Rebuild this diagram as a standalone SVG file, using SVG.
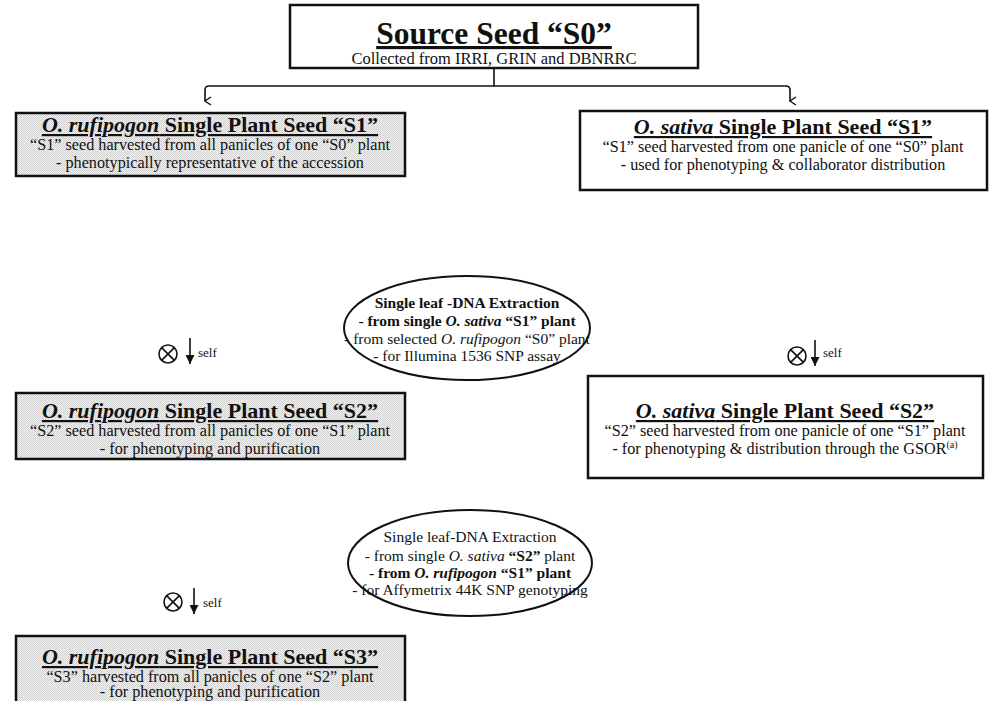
<svg xmlns="http://www.w3.org/2000/svg" width="989" height="701" viewBox="0 0 989 701">
<style>
text{font-family:"Liberation Serif","Times New Roman",serif;fill:#111;}
.box{stroke:#111;stroke-width:2.5;}
.gray{fill:url(#dots);}
.white{fill:#fff;}
.ttl{font-size:22px;font-weight:bold;text-anchor:middle;text-decoration:underline;text-decoration-thickness:2px;}
.body{font-size:16.2px;text-anchor:middle;}
.ell{fill:#fff;stroke:#111;stroke-width:2;}
.et{font-size:15.5px;text-anchor:middle;}
.self{font-size:13px;}
.line{stroke:#111;stroke-width:1.6;fill:none;}
.cross{stroke:#111;stroke-width:1.6;fill:none;}
</style>
<defs>
<pattern id="dots" width="2" height="2" patternUnits="userSpaceOnUse">
<rect width="2" height="2" fill="#efefef"/>
<rect width="1" height="1" fill="#d4d4d4"/>
<rect x="1" y="1" width="1" height="1" fill="#d4d4d4"/>
</pattern>
<marker id="open" viewBox="0 0 10 10" refX="5" refY="9" markerWidth="10" markerHeight="10" markerUnits="userSpaceOnUse" orient="auto-start-reverse">
<path d="M1,3 L5,9 L9,3" fill="none" stroke="#111" stroke-width="1.4"/>
</marker>
<marker id="fill" viewBox="0 0 10 10" refX="5" refY="10" markerWidth="9" markerHeight="11" markerUnits="userSpaceOnUse" orient="0">
<path d="M0,0 L10,0 L5,10 Z" fill="#111"/>
</marker>
</defs>
<rect width="989" height="701" fill="#fff"/>

<g id="connectors">
<path class="line" d="M494,68 L494,86"/>
<path class="line" d="M205,101 L205,90 Q205,86 209,86 L786,86 Q790,86 790,90 L790,101" marker-start="url(#open)" marker-end="url(#open)"/>
<path class="line" d="M190,338 L190,364" marker-end="url(#fill)"/>
<path class="line" d="M815,340 L815,366" marker-end="url(#fill)"/>
<path class="line" d="M194,588 L194,614" marker-end="url(#fill)"/>
</g>

<g id="self1">
<circle class="cross" cx="168" cy="354" r="9"/>
<path class="cross" d="M161.6,347.6 L174.4,360.4 M174.4,347.6 L161.6,360.4"/>
<text class="self" x="198" y="357">self</text>
</g>
<g id="self2">
<circle class="cross" cx="797" cy="356" r="9"/>
<path class="cross" d="M790.6,349.6 L803.4,362.4 M803.4,349.6 L790.6,362.4"/>
<text class="self" x="823" y="357">self</text>
</g>
<g id="self3">
<circle class="cross" cx="173" cy="602" r="9"/>
<path class="cross" d="M166.6,595.6 L179.4,608.4 M179.4,595.6 L166.6,608.4"/>
<text class="self" x="203" y="607">self</text>
</g>

<g id="source">
<rect class="box white" x="290" y="5" width="408" height="63"/>
<text x="494" y="44" style="font-size:31.5px;font-weight:bold;text-anchor:middle;text-decoration:underline;text-decoration-thickness:2.5px;">Source Seed “S0”</text>
<text x="494" y="64" style="font-size:16.5px;text-anchor:middle;">Collected from IRRI, GRIN and DBNRRC</text>
</g>

<g id="rufi-s1">
<rect class="box gray" x="16" y="113" width="389" height="63"/>
<text class="ttl" x="210" y="132"><tspan font-style="italic">O. rufipogon</tspan> Single Plant Seed “S1”</text>
<text class="body" x="210" y="150">“S1” seed harvested from all panicles of one “S0” plant</text>
<text class="body" x="210" y="168">- phenotypically representative of the accession</text>
</g>

<g id="sativa-s1">
<rect class="box white" x="580" y="111" width="407" height="79"/>
<text class="ttl" x="783" y="134"><tspan font-style="italic">O. sativa</tspan> Single Plant Seed “S1”</text>
<text class="body" x="783" y="152">“S1” seed harvested from one panicle of one “S0” plant</text>
<text class="body" x="783" y="170">- used for phenotyping &amp; collaborator distribution</text>
</g>

<g id="dna1">
<ellipse class="ell" cx="467" cy="328" rx="123" ry="52"/>
<text class="et" x="467" y="308" font-weight="bold">Single leaf -DNA Extraction</text>
<text class="et" x="467" y="326" font-weight="bold">- from single <tspan font-style="italic">O. sativa</tspan> “S1” plant</text>
<text class="et" x="467" y="344">- from selected <tspan font-style="italic">O. rufipogon</tspan> “S0” plant</text>
<text class="et" x="467" y="361">- for Illumina 1536 SNP assay</text>
</g>

<g id="rufi-s2">
<rect class="box gray" x="16" y="393" width="389" height="66"/>
<text class="ttl" x="210" y="418"><tspan font-style="italic">O. rufipogon</tspan> Single Plant Seed “S2”</text>
<text class="body" x="210" y="436">“S2” seed harvested from all panicles of one “S1” plant</text>
<text class="body" x="210" y="454">- for phenotyping and purification</text>
</g>

<g id="sativa-s2">
<rect class="box white" x="588" y="376" width="395" height="102"/>
<text class="ttl" x="785" y="418"><tspan font-style="italic">O. sativa</tspan> Single Plant Seed “S2”</text>
<text class="body" x="785" y="436">“S2” seed harvested from one panicle of one “S1” plant</text>
<text class="body" x="785" y="454">- for phenotyping &amp; distribution through the GSOR<tspan font-size="10" dy="-6">(a)</tspan></text>
</g>

<g id="dna2">
<ellipse class="ell" cx="470" cy="563" rx="122" ry="53"/>
<text class="et" x="470" y="542">Single leaf-DNA Extraction</text>
<text class="et" x="470" y="561">- from single <tspan font-style="italic">O. sativa</tspan> <tspan font-weight="bold">“S2”</tspan> plant</text>
<text class="et" x="470" y="578" font-weight="bold">- from <tspan font-style="italic">O. rufipogon</tspan> “S1” plant</text>
<text class="et" x="470" y="595">- for Affymetrix 44K SNP genotyping</text>
</g>

<g id="rufi-s3">
<rect class="box gray" x="16" y="636" width="389" height="75"/>
<text class="ttl" x="210" y="664"><tspan font-style="italic">O. rufipogon</tspan> Single Plant Seed “S3”</text>
<text class="body" x="210" y="682">“S3” harvested from all panicles of one “S2” plant</text>
<text class="body" x="210" y="697">- for phenotyping and purification</text>
</g>
</svg>
